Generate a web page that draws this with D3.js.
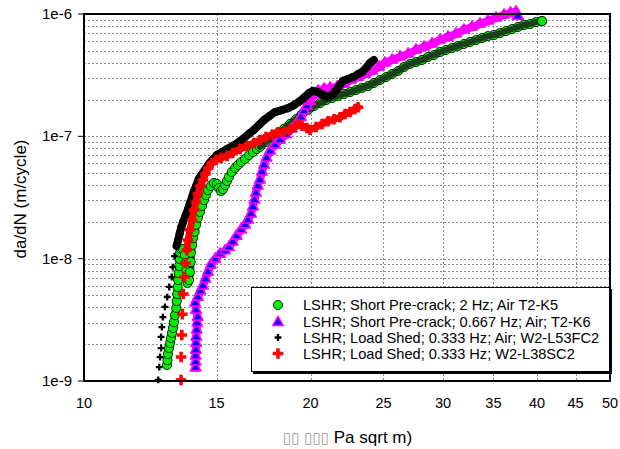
<!DOCTYPE html>
<html><head><meta charset="utf-8">
<script src="https://cdn.jsdelivr.net/npm/d3@7"></script>
<style>body{margin:0;background:#fff}svg{display:block}text{font-family:"Liberation Sans",Arial,sans-serif;fill:#000}</style>
</head><body><svg id="c" width="620" height="449"></svg>
<script>
const xTickValues=[10,15,20,25,30,35,40,45,50];
const yTickValues=[1e-9,1e-8,1e-7,1e-6];
const yTickLabels=["1e-9","1e-8","1e-7","1e-6"];
const seriesNames=["LSHR; Short Pre-crack; 2 Hz; Air T2-K5","LSHR; Short Pre-crack; 0.667 Hz; Air; T2-K6","LSHR; Load Shed; 0.333 Hz; Air; W2-L53FC2","LSHR; Load Shed; 0.333 Hz; W2-L38SC2"];
const yTitle="da/dN (m/cycle)";
const xTitleMissing="\u25AF\u25AF \u25AF\u25AF\u25AF";
const xTitle=" Pa sqrt m)";

const greenK=[12.89,12.91,12.93,12.97,13.01,13.05,13.09,13.13,13.17,13.21,13.26,13.28,13.30,13.32,13.34,13.36,13.38,13.40,13.42,13.46,13.54,13.62,13.66,13.68,13.71,13.73,13.79,13.83,13.86,13.87,13.92,13.96,14.03,14.09,14.17,14.26,14.35,14.44,14.52,14.61,14.74,14.88,15.02,15.11,15.21,15.30,15.40,15.49,15.58,15.72,15.88,16.02,16.17,16.37,16.57,16.77,16.97,17.13,17.45,17.78,18.11,18.44,18.78,19.13,19.48,19.84,20.22,20.59,20.98,21.36,21.76,22.16,22.57,22.99,23.41,23.85,24.28,24.74,25.20,25.67,26.14,26.63,27.12,27.62,28.13,28.65,29.18,29.72,30.27,30.83,31.40,31.98,32.58,33.18,33.80,34.42,35.06,35.71,36.37,37.05,37.73,38.43,39.14,39.86,40.61];
const greenRate=[1.35e-9,1.48e-9,1.66e-9,1.86e-9,2.04e-9,2.25e-9,2.47e-9,2.71e-9,3.03e-9,3.46e-9,3.95e-9,4.50e-9,5.14e-9,5.87e-9,6.69e-9,7.63e-9,8.70e-9,9.93e-9,1.12e-8,1.20e-8,1.20e-8,1.07e-8,9.22e-9,8.07e-9,7.08e-9,6.32e-9,6.69e-9,7.77e-9,9.39e-9,1.12e-8,1.29e-8,1.47e-8,1.66e-8,1.89e-8,2.16e-8,2.41e-8,2.70e-8,3.02e-8,3.31e-8,3.64e-8,3.93e-8,4.16e-8,4.08e-8,3.78e-8,3.57e-8,3.71e-8,4.00e-8,4.32e-8,4.65e-8,5.11e-8,5.51e-8,5.83e-8,6.17e-8,6.53e-8,7.04e-8,7.44e-8,7.88e-8,8.18e-8,8.99e-8,9.87e-8,1.07e-7,1.15e-7,1.26e-7,1.38e-7,1.52e-7,1.64e-7,1.77e-7,1.87e-7,1.98e-7,2.06e-7,2.14e-7,2.22e-7,2.30e-7,2.39e-7,2.49e-7,2.58e-7,2.73e-7,2.89e-7,3.05e-7,3.23e-7,3.42e-7,3.69e-7,3.91e-7,4.05e-7,4.21e-7,4.45e-7,4.62e-7,4.89e-7,5.08e-7,5.27e-7,5.48e-7,5.69e-7,5.90e-7,6.13e-7,6.36e-7,6.60e-7,6.73e-7,6.99e-7,7.26e-7,7.54e-7,7.83e-7,8.13e-7,8.28e-7,8.60e-7,8.76e-7];

const magentaK=[14.07,14.07,14.07,14.08,14.09,14.10,14.12,14.14,14.16,14.09,14.05,14.17,14.28,14.39,14.50,14.61,14.74,14.94,15.16,15.40,15.58,15.76,15.95,16.17,16.37,16.52,16.67,16.77,16.85,16.92,17.02,17.13,17.24,17.35,17.48,17.67,17.94,18.22,18.56,18.89,19.19,19.42,19.60,19.78,19.97,20.22,20.47,20.85,21.23,21.69,22.16,22.64,23.13,23.63,24.14,24.66,25.12,25.67,26.30,26.96,27.62,28.30,29.00,29.72,30.45,31.21,31.98,32.78,33.59,34.42,35.28,36.15,36.88,37.49,37.70];
const magentaRate=[1.28e-9,1.43e-9,1.60e-9,1.79e-9,2.04e-9,2.29e-9,2.61e-9,2.98e-9,3.33e-9,3.80e-9,4.34e-9,4.85e-9,5.44e-9,5.98e-9,6.82e-9,7.77e-9,8.87e-9,9.93e-9,1.09e-8,1.16e-8,1.24e-8,1.37e-8,1.53e-8,1.72e-8,1.89e-8,2.07e-8,2.32e-8,2.65e-8,3.02e-8,3.44e-8,3.93e-8,4.40e-8,5.11e-8,5.83e-8,6.65e-8,7.59e-8,8.49e-8,9.33e-8,1.03e-7,1.15e-7,1.29e-7,1.43e-7,1.61e-7,1.77e-7,1.94e-7,2.18e-7,2.35e-7,2.44e-7,2.49e-7,2.53e-7,2.68e-7,2.89e-7,3.05e-7,3.23e-7,3.42e-7,3.69e-7,3.98e-7,4.21e-7,4.45e-7,4.71e-7,5.08e-7,5.37e-7,5.69e-7,6.13e-7,6.48e-7,6.86e-7,7.40e-7,7.83e-7,8.28e-7,8.76e-7,9.28e-7,9.81e-7,1.02e-6,1.04e-6,9.6e-7];

const blackK=[12.55,12.59,12.62,12.66,12.66,12.69,12.73,12.81,12.90,12.98,13.08,13.12,13.19,13.27,13.34,13.40,13.46,13.54,13.64,13.75,13.83,13.92,14.00,14.11,14.21,14.35,14.50,14.65,14.84,15.02,15.26,15.49,15.76,16.07,16.32,16.57,16.82,17.08,17.35,17.62,17.94,18.33,18.67,19.01,19.36,19.66,19.91,20.16,20.47,20.78,21.10,21.36,21.63,21.89,22.09,22.43,22.78,23.13,23.41,23.70,23.99,24.28];
const blackRate=[1.02e-9,1.30e-9,1.57e-9,1.86e-9,2.29e-9,2.76e-9,3.33e-9,4.03e-9,4.85e-9,5.87e-9,7.08e-9,8.54e-9,1.05e-8,1.27e-8,1.42e-8,1.60e-8,1.79e-8,1.99e-8,2.24e-8,2.55e-8,2.85e-8,3.19e-8,3.57e-8,4.00e-8,4.48e-8,4.93e-8,5.41e-8,5.95e-8,6.53e-8,7.04e-8,7.44e-8,7.88e-8,8.33e-8,8.99e-8,9.69e-8,1.05e-7,1.13e-7,1.24e-7,1.36e-7,1.46e-7,1.58e-7,1.64e-7,1.70e-7,1.80e-7,1.94e-7,2.10e-7,2.26e-7,2.35e-7,2.30e-7,2.18e-7,2.10e-7,2.18e-7,2.39e-7,2.63e-7,2.84e-7,2.94e-7,3.05e-7,3.23e-7,3.35e-7,3.62e-7,3.98e-7,4.21e-7];

const redK=[13.46,13.46,13.49,13.51,13.55,13.60,13.64,13.70,13.75,13.83,13.92,14.00,14.09,14.17,14.28,14.39,14.50,14.63,14.79,14.98,15.21,15.49,15.76,16.12,16.47,16.82,17.13,17.45,17.78,18.11,18.44,18.78,19.07,19.25,19.48,19.78,19.97,20.34,20.72,21.10,21.49,21.89,22.23,22.57,22.92,23.13];
const redRate=[1.02e-9,1.57e-9,2.38e-9,3.52e-9,5.14e-9,7.08e-9,9.22e-9,1.18e-8,1.42e-8,1.72e-8,2.07e-8,2.50e-8,2.91e-8,3.38e-8,3.93e-8,4.40e-8,4.93e-8,5.51e-8,6.06e-8,6.41e-8,6.65e-8,6.91e-8,7.31e-8,7.88e-8,8.33e-8,8.82e-8,9.33e-8,9.87e-8,1.03e-7,1.08e-7,1.09e-7,1.13e-7,1.19e-7,1.26e-7,1.22e-7,1.17e-7,1.13e-7,1.19e-7,1.26e-7,1.33e-7,1.38e-7,1.43e-7,1.52e-7,1.58e-7,1.67e-7,1.73e-7];

const svg=d3.select("#c");
const L=84,R=610,T=14,B=381;
const x=d3.scaleLog().domain([10,50]).range([L,R]);
const y=d3.scaleLog().domain([1e-9,1e-6]).range([B,T]);

// grid
const grid=svg.append("g").attr("stroke","#8a8a8a").attr("stroke-width",1).attr("stroke-dasharray","2,2");
const hLines=[];
for(let e=-9;e<-6;e++){for(let k=1;k<10;k++){const v=k*Math.pow(10,e);if(!(e===-9&&k===1))hLines.push(v);}}
grid.selectAll("line.h").data(hLines).join("line").attr("class","h")
 .attr("x1",L).attr("x2",R).attr("y1",d=>Math.round(y(d))+0.5).attr("y2",d=>Math.round(y(d))+0.5);
grid.selectAll("line.v").data(xTickValues.slice(1,-1)).join("line").attr("class","v")
 .attr("y1",T).attr("y2",B).attr("x1",d=>Math.round(x(d))+0.5).attr("x2",d=>Math.round(x(d))+0.5);

// y axis ticks and labels
svg.append("g").selectAll("line").data(yTickValues).join("line")
 .attr("x1",L-6).attr("x2",L).attr("y1",d=>y(d)).attr("y2",d=>y(d)).attr("stroke","#000").attr("stroke-width",1);
svg.append("g").selectAll("text").data(yTickValues).join("text")
 .attr("x",72).attr("y",d=>y(d)+5).attr("text-anchor","end").attr("font-size",15).text((d,i)=>yTickLabels[i]);
// x labels
svg.append("g").selectAll("text").data(xTickValues).join("text")
 .attr("x",d=>x(d)).attr("y",408).attr("text-anchor","middle").attr("font-size",14.5).text(d=>d);

// titles
svg.append("text").attr("transform","translate(26,199) rotate(-90)").attr("text-anchor","middle").attr("font-size",17).text(yTitle);
const xt=svg.append("text").attr("x",283).attr("y",443).attr("font-size",17);
xt.append("tspan").attr("fill","#9a9a9a").style("fill","#9a9a9a").attr("font-family","DejaVu Sans").attr("font-size",15).text(xTitleMissing);
xt.append("tspan").text(xTitle);

// series styles
const series=[
 {K:greenK,Rt:greenRate,gap:12,uc:"#123a12",uw:8,denseFrom:17.0,oc:"#1a3f1a",ow:6,type:"circle",fill:"#00ee00",stroke:"#000",sw:0.8,size:4.6},
 {K:magentaK,Rt:magentaRate,gap:12,uc:"#ff00ff",uw:8,denseFrom:19.9,oc:"#ff00ff",ow:6.5,type:"tri",fill:"#0000ff",stroke:"#ff00ff",sw:1.6,size:48},
 {K:blackK,Rt:blackRate,gap:9,uc:"#000",uw:8,type:"cross",fill:"#000",size:26},
 {K:redK,Rt:redRate,gap:11,uc:"#ff0000",uw:7,type:"cross",fill:"#ff0000",size:62}
];
function marker(g,s,px,py){
 if(s.type==="circle") return g.append("circle").attr("cx",px).attr("cy",py).attr("r",s.size).attr("fill",s.fill).attr("stroke",s.stroke).attr("stroke-width",s.sw);
 const sym=d3.symbol(s.type==="tri"?d3.symbolTriangle:d3.symbolCross,s.size);
 const p=g.append("path").attr("d",sym()).attr("transform",`translate(${px},${py})`).attr("fill",s.fill);
 if(s.stroke)p.attr("stroke",s.stroke).attr("stroke-width",s.sw).attr("stroke-linejoin","round");
 return p;
}
series.forEach(s=>{
 const g=svg.append("g");
 const pts=s.K.map((k,i)=>[x(k),y(s.Rt[i]),k]);
 const segs=[];
 for(let i=1;i<pts.length;i++){const dx=pts[i][0]-pts[i-1][0],dy=pts[i][1]-pts[i-1][1];if(Math.hypot(dx,dy)<s.gap)segs.push([pts[i-1],pts[i]]);}
 g.selectAll("line.u").data(segs).join("line").attr("class","u").attr("x1",d=>d[0][0]).attr("y1",d=>d[0][1]).attr("x2",d=>d[1][0]).attr("y2",d=>d[1][1])
  .attr("stroke",s.uc).attr("stroke-width",s.uw).attr("stroke-linecap","round");
 pts.forEach(p=>marker(g,s,p[0],p[1]));
 if(s.denseFrom){
  const dense=segs.filter(d=>d[0][2]>=s.denseFrom);
  g.selectAll("line.o").data(dense).join("line").attr("class","o").attr("x1",d=>d[0][0]).attr("y1",d=>d[0][1]).attr("x2",d=>d[1][0]).attr("y2",d=>d[1][1])
   .attr("stroke",s.oc).attr("stroke-width",s.ow).attr("stroke-linecap","round");
  const last=pts[pts.length-1];
  marker(g,s,last[0],last[1]);
 }
});

// frame
svg.append("rect").attr("x",L).attr("y",T).attr("width",R-L).attr("height",B-T).attr("fill","none").attr("stroke","#000").attr("stroke-width",2);

// legend
const lg=svg.append("g");
lg.append("rect").attr("x",253).attr("y",289).attr("width",359).attr("height",85).attr("fill","#000");
lg.append("rect").attr("x",251.5).attr("y",287.5).attr("width",358).attr("height",84).attr("fill","#fff").attr("stroke","#000").attr("stroke-width",1);
const rowY=[305,321.5,337.5,353.5];
seriesNames.forEach((n,i)=>{
 marker(lg,series[i],278,rowY[i]+(series[i].type==="tri"?1:0));
 lg.append("text").attr("x",303).attr("y",rowY[i]+5).attr("font-size",14.6).text(n);
});
</script></body></html>
